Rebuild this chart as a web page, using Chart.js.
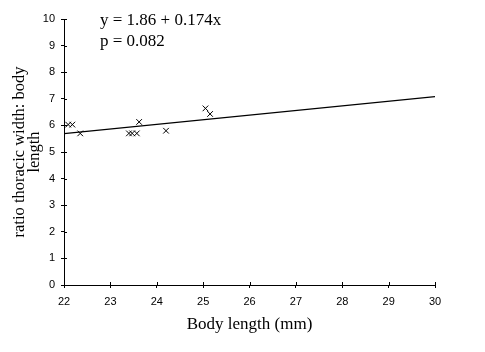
<!DOCTYPE html>
<html>
<head>
<meta charset="utf-8">
<script src="https://cdn.jsdelivr.net/npm/chart.js@4"></script>
<style>
  html, body { margin: 0; padding: 0; background: #fff; }
  #wrap { width: 485px; height: 352px; }
</style>
</head>
<body>
<div id="wrap"><canvas id="chart" width="485" height="352"></canvas></div>
<script>
// measured points
const bodyLength = [22.09, 22.18, 22.35, 23.40, 23.47, 23.57, 23.62, 24.20, 25.05, 25.15];
const ratio = [6.03, 6.03, 5.70, 5.70, 5.70, 5.70, 6.13, 5.80, 6.64, 6.43];

// regression from the label
const intercept = 1.86;
const slope = 0.174;
const lineX = [22, 30];

const labelLines = ["y = 1.86 + 0.174x", "p = 0.082"];

const points = bodyLength.map((x, i) => ({ x: x, y: ratio[i] }));
const fit = lineX.map((x) => ({ x: x, y: intercept + slope * x }));

// text in the top-left of the plot + inner half of the tick marks
const labelPlugin = {
  id: "eqLabel",
  afterDraw(chart) {
    const ctx = chart.ctx;
    const xs = chart.scales.x;
    const ys = chart.scales.y;
    ctx.save();
    ctx.strokeStyle = "#000";
    ctx.lineWidth = 1;
    ctx.beginPath();
    xs.ticks.forEach((t) => {
      const px = Math.round(xs.getPixelForValue(t.value)) + 0.5;
      ctx.moveTo(px, ys.bottom);
      ctx.lineTo(px, ys.bottom - 3);
    });
    ys.ticks.forEach((t) => {
      const py = Math.round(ys.getPixelForValue(t.value)) + 0.5;
      ctx.moveTo(xs.left, py);
      ctx.lineTo(xs.left + 3, py);
    });
    ctx.stroke();

    ctx.fillStyle = "#000";
    ctx.font = "17px 'Liberation Serif'";
    ctx.textBaseline = "middle";
    ctx.fillText(labelLines[0], 100, 21);
    ctx.fillText(labelLines[1], 100, 42);
    ctx.restore();
  },
};

const axisGrid = {
  drawOnChartArea: false,
  drawTicks: true,
  tickLength: 3,
  color: "#000",
};

new Chart(document.getElementById("chart"), {
  type: "scatter",
  data: {
    datasets: [
      {
        data: points,
        pointStyle: "crossRot",
        pointRadius: 4,
        borderColor: "#000",
        borderWidth: 1,
        showLine: false,
      },
      {
        type: "line",
        data: fit,
        borderColor: "#000",
        borderWidth: 1.2,
        pointRadius: 0,
        fill: false,
      },
    ],
  },
  options: {
    responsive: false,
    animation: false,
    layout: { padding: { top: 19, right: 50, left: 0, bottom: 0 } },
    plugins: { legend: { display: false }, tooltip: { enabled: false } },
    scales: {
      x: {
        type: "linear",
        min: 22,
        max: 30,
        ticks: {
          stepSize: 1,
          color: "#000",
          padding: 7,
          font: { family: "'Liberation Sans'", size: 11 },
        },
        grid: axisGrid,
        border: { color: "#000", width: 1 },
        title: {
          display: true,
          text: "Body length (mm)",
          color: "#000",
          font: { family: "'Liberation Serif'", size: 17 },
          padding: { top: 4, bottom: 17 },
        },
        afterFit(scale) { scale.height = 67; },
      },
      y: {
        min: 0,
        max: 10,
        ticks: {
          stepSize: 1,
          color: "#000",
          padding: 6,
          font: { family: "'Liberation Sans'", size: 11 },
        },
        grid: axisGrid,
        border: { color: "#000", width: 1 },
        title: {
          display: true,
          text: ["ratio thoracic width: body", "length"],
          color: "#000",
          font: { family: "'Liberation Serif'", size: 16.5, lineHeight: 0.91 },
          padding: { top: 12, bottom: 0 },
        },
        afterFit(scale) { scale.width = 64; },
      },
    },
  },
  plugins: [labelPlugin],
});
</script>
</body>
</html>
